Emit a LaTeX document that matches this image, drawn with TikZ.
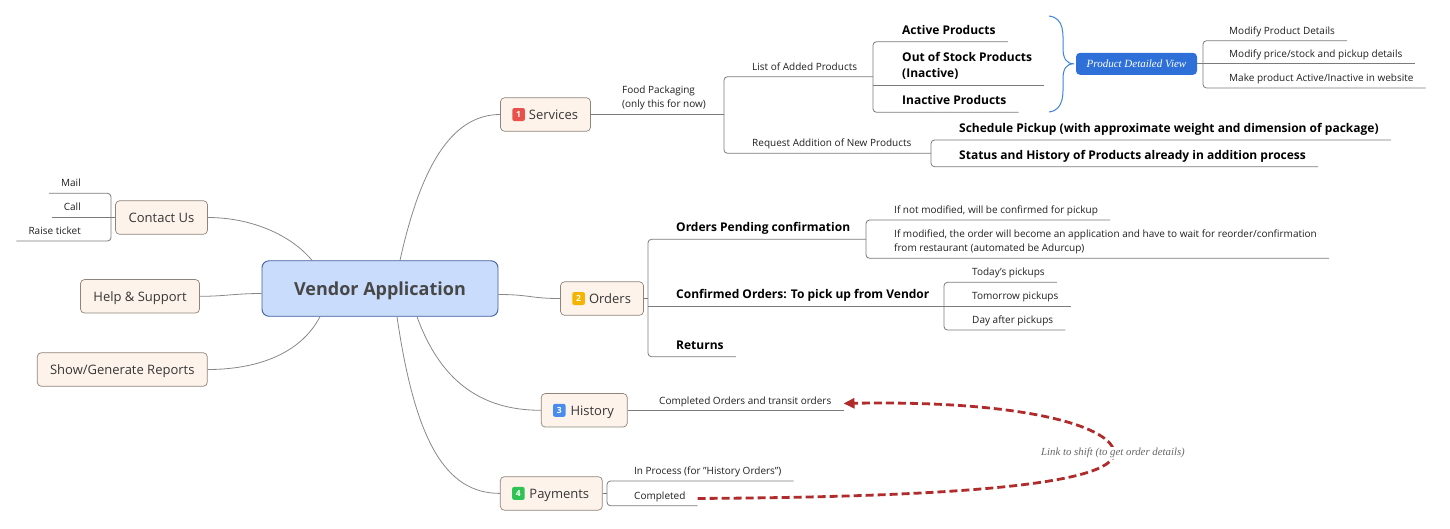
\documentclass[tikz,border=0pt]{standalone}
\usepackage{fontspec}
\setmainfont{Open Sans}
\newfontfamily\notefont{Liberation Serif}
\usetikzlibrary{positioning, arrows.meta}

\definecolor{boxfill}{HTML}{FDF3EA}
\definecolor{boxline}{HTML}{8E847B}
\definecolor{hubfill}{HTML}{C9DCFB}
\definecolor{hubline}{HTML}{3F5E9E}
\definecolor{branchgray}{HTML}{7B7B7B}
\definecolor{linkred}{HTML}{B02B2B}
\definecolor{braceblue}{HTML}{3E82DD}
\definecolor{pdvblue}{HTML}{2E70D8}
\definecolor{badgered}{HTML}{E9524A}
\definecolor{badgeorange}{HTML}{F6B400}
\definecolor{badgeblue}{HTML}{4A8CEB}
\definecolor{badgegreen}{HTML}{2EC352}
\definecolor{textgray}{HTML}{363636}

\begin{document}
\begin{tikzpicture}[
    % GLOBAL CFG
    x=1pt, y=-1pt,
    % Styles
    hub/.style={% For the central topic
        rectangle,
        rounded corners=7pt,
        draw=hubline,
        fill=hubfill,
        line width=0.9pt,
        minimum width=236pt,
        minimum height=55.5pt,
        text depth=0pt,
        font=\fontsize{18}{21}\selectfont\bfseries,
        text=black!72,
        },
    topic/.style={% For the main branches
        rectangle,
        rounded corners=4pt,
        draw=boxline,
        fill=boxfill,
        line width=0.7pt,
        minimum height=33.5pt,
        inner xsep=0pt,
        text depth=0pt,
        font=\fontsize{13}{15}\selectfont,
        text=textgray,
        },
    badge/.style={% Numbered markers
        rectangle,
        rounded corners=2pt,
        minimum width=12.5pt,
        minimum height=13pt,
        inner sep=0pt,
        text=white,
        font=\fontsize{8.5}{10}\selectfont\bfseries,
        },
    leaf/.style={% Underlined small texts
        inner xsep=12pt,
        inner ysep=0pt,
        text depth=6.5pt,
        align=left,
        font=\fontsize{10}{14.3}\selectfont,
        text=black!88,
        },
    bleaf/.style={% Underlined bold texts
        leaf,
        text depth=7.5pt,
        font=\fontsize{12}{16.6}\selectfont\bfseries,
        text=black,
        },
    pdvbox/.style={% The blue floating topic
        rectangle,
        rounded corners=4pt,
        fill=pdvblue,
        minimum width=121pt,
        minimum height=22pt,
        text=white,
        font=\notefont\itshape\fontsize{11}{13}\selectfont,
        },
    note/.style={% Label of the link
        fill=white,
        inner sep=1pt,
        text=black!60,
        font=\notefont\itshape\fontsize{10.8}{12}\selectfont,
        },
    branch/.style={% Lines with rounded corners
        draw=branchgray,
        line width=0.8pt,
        rounded corners=3.5pt,
        },
    stem/.style={% Curves from the centre
        draw=branchgray!90,
        line width=0.8pt,
        },
    link/.style={% Dashed relation
        draw=linkred,
        line width=2.8pt,
        dash pattern=on 8pt off 4pt,
        -{Triangle[length=11pt,width=10pt]},
        },
    ]

    \useasboundingbox (0,0) rectangle (1450,528);

    % Draw the central topic and the main boxes
    \node [hub] (app) at (380,288.5) {Vendor Application};

    \node [topic, minimum width=92pt] (cont) at (161.5,217.5) {Contact Us};
    \node [topic, minimum width=119pt] (help) at (140,296.3) {Help \& Support};
    \node [topic, minimum width=170pt] (rep) at (122.3,369.5) {Show/Generate Reports};

    \node [topic, minimum width=90pt] (serv) at (545.5,114.5) {\hspace*{16pt}Services};
    \node [topic, minimum width=83pt] (ord) at (602,298.5) {\hspace*{16pt}Orders};
    \node [topic, minimum width=86pt] (hist) at (584.2,410.3) {\hspace*{16pt}History};
    \node [topic, minimum width=102pt] (pay) at (551.3,493.4) {\hspace*{16pt}Payments};

    % Badges
    \node [badge, fill=badgered, right=12pt of serv.west] (servno) {1};
    \node [badge, fill=badgeorange, right=12pt of ord.west] (ordno) {2};
    \node [badge, fill=badgeblue, right=12pt of hist.west] (histno) {3};
    \node [badge, fill=badgegreen, right=12pt of pay.west] (payno) {4};

    % Forks named fork#
    \coordinate (fork0) at (111,0);
    \coordinate (fork1) at (724,0);
    \coordinate (fork2) at (873,0);
    \coordinate (fork3) at (931,0);
    \coordinate (fork4) at (1203,0);
    \coordinate (fork5) at (648,0);
    \coordinate (fork6) at (866,0);
    \coordinate (fork7) at (944,0);
    \coordinate (fork8) at (607,0);

    % Contact Us children
    \node [leaf, anchor=south east] (mail) at (93,193.3) {Mail};
    \node [leaf, anchor=south east] (call) at (93,217.5) {Call};
    \node [leaf, anchor=south east] (raise) at (93,241) {Raise ticket};

    % Services children
    \node [leaf, anchor=south west] (food) at (610,114.5) {Food Packaging\\(only this for now)};
    \node [leaf, anchor=south west] (list) at (740,76.7) {List of Added Products};
    \node [leaf, anchor=south west] (req) at (740,153.3) {Request Addition of New Products};
    \node [bleaf, anchor=south west] (act) at (890,41.7) {Active Products};
    \node [bleaf, anchor=south west] (oos) at (890,85.3) {Out of Stock Products\\(Inactive)};
    \node [bleaf, anchor=south west] (inact) at (890,112.3) {Inactive Products};
    \node [bleaf, anchor=south west] (sched) at (947,140) {Schedule Pickup (with approximate weight and dimension of package)};
    \node [bleaf, anchor=south west] (stat) at (947,166.7) {Status and History of Products already in addition process};
    \node [pdvbox] (pdv) at (1136.5,63.8) {Product Detailed View};
    \node [leaf, anchor=south west] (mod1) at (1217,40.7) {Modify Product Details};
    \node [leaf, anchor=south west] (mod2) at (1217,63.8) {Modify price/stock and pickup details};
    \node [leaf, anchor=south west] (mod3) at (1217,88) {Make product Active/Inactive in website};

    % Orders children
    \node [bleaf, anchor=south west] (pend) at (664,239.3) {Orders Pending confirmation};
    \node [bleaf, anchor=south west] (conf) at (664,306) {Confirmed Orders: To pick up from Vendor};
    \node [bleaf, anchor=south west] (ret) at (664,356.7) {Returns};
    \node [leaf, anchor=south west] (nmod) at (882,220) {If not modified, will be confirmed for pickup};
    \node [leaf, anchor=south west] (ymod) at (882,258.3) {If modified, the order will become an application and have to wait for reorder/confirmation\\from restaurant (automated be Adurcup)};
    \node [leaf, anchor=south west] (tod) at (960,282.3) {Today's pickups};
    \node [leaf, anchor=south west] (tom) at (960,306) {Tomorrow pickups};
    \node [leaf, anchor=south west] (dayaft) at (960,330) {Day after pickups};

    % History and Payments children
    \node [leaf, anchor=south west] (cot) at (647,410.7) {Completed Orders and transit orders};
    \node [leaf, anchor=south west] (inproc) at (622,481) {In Process (for "History Orders")};
    \node [leaf, anchor=south west] (comp) at (622,505.7) {Completed};

    % Curves from the centre
    \draw [stem] ([xshift=20pt]app.north) .. controls (420,170) and (450,114.5) .. (serv.west);
    \draw [stem] ([xshift=-68pt]app.north) .. controls (290,234) and (250,217.5) .. (cont.east);
    \draw [stem] ([yshift=-5pt]app.west) .. controls (235,293.5) and (225,296.3) .. (help.east);
    \draw [stem] ([xshift=-60pt]app.south) .. controls (300,355) and (255,369.5) .. (rep.east);
    \draw [stem] ([yshift=-6pt]app.east) .. controls (530,294.5) and (530,298.5) .. (ord.west);
    \draw [stem] ([xshift=37pt]app.south) .. controls (440,380) and (480,410.3) .. (hist.west);
    \draw [stem] ([xshift=17pt]app.south) .. controls (415,440) and (445,493.4) .. (pay.west);

    % Contact Us
    \draw [branch] (call.south west) -- (call.south -| cont.west);
    \draw [branch] (mail.south west) -- (fork0 |- mail.south) -- (fork0 |- raise.south) -- (raise.south west);

    % Services
    \draw [branch] (serv.east) -- (fork1 |- serv.east);
    \draw [branch] (fork2 |- list.south) -- (fork1 |- list.south) -- (fork1 |- req.south) -- (fork3 |- req.south);
    \draw [branch] (act.south east) -- (fork2 |- act.south) -- (fork2 |- inact.south) -- (inact.south east);
    \draw [branch] (fork2 |- oos.south) -- (oos.south east);
    \draw [branch] (sched.south east) -- (fork3 |- sched.south) -- (fork3 |- stat.south) -- (stat.south east);
    \draw [braceblue, line width=1pt] (1049,16) .. controls (1065,18) and (1063,35) .. (1063,48)
        .. controls (1063,58) and (1066,63.8) .. (1074,63.8)
        .. controls (1066,63.8) and (1063,69) .. (1063,79)
        .. controls (1063,92) and (1065,110) .. (1049,112);
    \draw [branch] (pdv.east) -- (mod2.south east);
    \draw [branch] (mod1.south east) -- (fork4 |- mod1.south) -- (fork4 |- mod3.south) -- (mod3.south east);

    % Orders
    \draw [branch] (ord.east) -- (fork5 |- ord.east);
    \draw [branch] (fork6 |- pend.south) -- (fork5 |- pend.south) -- (fork5 |- ret.south) -- (ret.south east);
    \draw [branch] (fork5 |- conf.south) -- (tom.south east);
    \draw [branch] (nmod.south east) -- (fork6 |- nmod.south) -- (fork6 |- ymod.south) -- (ymod.south east);
    \draw [branch] (tod.south east) -- (fork7 |- tod.south) -- (fork7 |- dayaft.south) -- (dayaft.south east);

    % History and Payments
    \draw [branch] (hist.east) -- (hist.east -| cot.south east);
    \draw [branch] (pay.east) -- (fork8 |- pay.east);
    \draw [branch] (inproc.south east) -- (fork8 |- inproc.south) -- (fork8 |- comp.south) -- (comp.south east);

    % Link between Completed and History
    \draw [link] (comp.east) .. controls (950,497) and (1114,485) .. (1114,453)
        .. controls (1114,428) and (1030,400) .. (cot.east);
    \node [note] (linknote) at (1113,453) {Link to shift (to get order details)};

\end{tikzpicture}
\end{document}
